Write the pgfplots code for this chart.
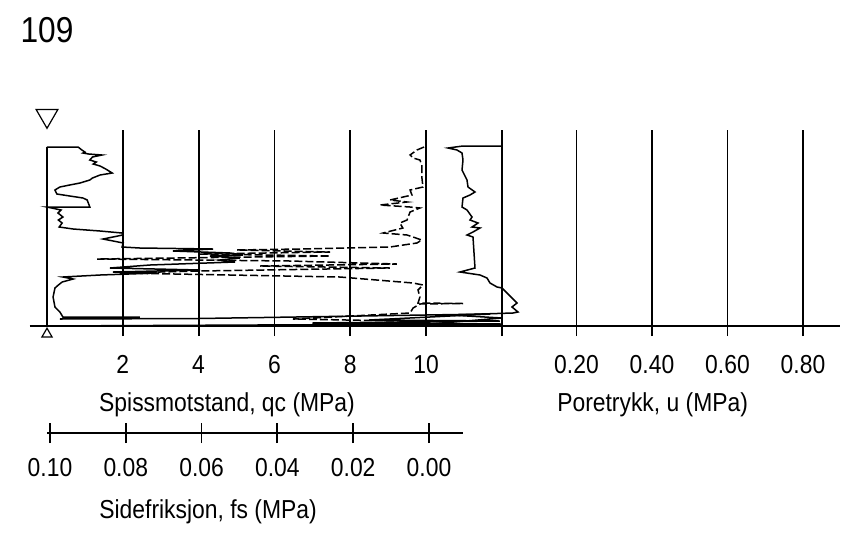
\documentclass[border=0pt]{standalone}
\usepackage{fontspec}
\setmainfont{Liberation Sans}[FakeStretch=0.88]
\usepackage{pgfplots}
\pgfplotsset{compat=1.18}

\pgfplotsset{
  cpt/.style={
    scale only axis, width=405pt, height=98pt,
    at={(0,0)}, anchor=south west,
    ymin=-1.7, ymax=17.9, y dir=reverse,
    clip=false,
  },
  ticks/.style={
    axis y line=none, axis x line*=bottom,
    xmajorgrids, grid style={black, line width=0.9pt},
    xtick align=outside, major tick length=5pt,
    tick style={black, line width=0.9pt},
    axis line style={line width=0.9pt},
    xticklabel style={font=\fontsize{13}{15}\selectfont, inner sep=0pt, yshift=-9.5pt},
  },
}

\begin{document}
\begin{tikzpicture}
\path[use as bounding box] (-15pt,-103pt) rectangle (406.5pt,163pt);

% spissmotstand qc
\begin{axis}[cpt, ticks,
    xmin=-0.4485, xmax=20.923,
    xtick={2,4,6,8,10,12}, xticklabels={2,4,6,8,10,{}},
  ]
  \addplot[black, line width=0.9pt] coordinates {(0,0) (0,17.9)};
  \addplot[black, line width=0.75pt] coordinates {
    (0,0) (0.16,0) (0.82,0) (0.92,0.3) (1.00,0.5) (0.95,0.6) (1.10,0.7)
    (1.45,0.8) (1.20,1.0) (1.13,1.3) (1.30,1.5) (1.22,1.7) (1.40,1.9)
    (1.55,2.2) (1.72,2.6) (1.40,2.8) (1.20,3.1) (1.13,3.3) (0.87,3.6)
    (0.60,3.8) (0.34,4.0) (0.21,4.3) (0.26,4.7) (0.60,4.9) (0.95,5.1)
    (1.06,5.3) (1.10,5.7) (1.13,6.0) (0,6.0) (0.37,6.3) (0.29,6.6)
    (0.42,7.0) (0.30,7.3) (0.40,7.6) (0.32,8.0) (0.69,8.2) (1.40,8.4)
    (1.98,8.6) (2.00,8.8) (1.48,9.2) (2.01,9.6) (1.98,10.0) (2.45,10.1)
    (4.38,10.2) (3.32,10.4) (4.83,10.6) (5.17,10.8) (4.30,10.9) (5.09,11.1)
    (4.56,11.3) (4.96,11.5) (2.72,11.8) (1.66,12.1) (4.04,12.3) (1.74,12.5)
    (2.90,12.6) (1.40,12.8) (0.42,13.0) (0.69,13.2) (0.40,13.5) (0.30,13.8)
    (0.21,14.1) (0.16,15.0) (0.21,16.0) (0.34,16.5) (0.42,17.0) (2.45,17.0)
    (0.34,17.2) (4.0,17.15) (11.7,16.7) (8.5,17.3) (11.95,17.4) (7.0,17.6)
    (12.0,17.7) (5.5,17.8) (0,17.9)
  };
  % water level and bottom symbols
  \addplot[only marks, mark=triangle, mark size=6.3pt,
    mark options={rotate=180, line width=0.6pt, fill=white}] coordinates {(0,-3.13)};
  \addplot[only marks, mark=triangle, mark size=2.9pt,
    mark options={line width=0.6pt, fill=white}] coordinates {(0,18.7)};

  \node[anchor=base, font=\fontsize{18}{20}\selectfont] at (axis cs:0,-10.5) {109};
  \node[anchor=base, font=\fontsize{13}{15}\selectfont] at (axis cs:4.75,26.4) {Spissmotstand, qc (MPa)};
  \node[anchor=base, font=\fontsize{13}{15}\selectfont] at (axis cs:15.98,26.4) {Poretrykk, u (MPa)};
  \node[anchor=base, font=\fontsize{13}{15}\selectfont] at (axis cs:4.25,37.1) {Sidefriksjon, fs (MPa)};
\end{axis}

% poretrykk u
\begin{axis}[cpt, ticks,
    xmin=-1.2477, xmax=0.898,
    xtick={0.2,0.4,0.6,0.8}, xticklabels={0.20,0.40,0.60,0.80},
  ]
  \addplot[black, line width=0.75pt] coordinates {
    (0,-0.1) (-0.1007,-0.1) (-0.1404,0.1) (-0.1166,0.3) (-0.1033,0.6)
    (-0.1007,1.3) (-0.1033,2.3) (-0.0901,3.3) (-0.0874,4.0) (-0.0689,4.5)
    (-0.0821,4.8) (-0.1007,5.1) (-0.1033,6.0) (-0.0901,6.3) (-0.0768,7.0)
    (-0.0821,7.3) (-0.0609,7.6) (-0.0768,8.0) (-0.0556,8.1) (-0.0742,8.5)
    (-0.0901,8.8) (-0.0742,9.0) (-0.0689,12.1) (-0.1086,12.5) (-0.0556,12.8)
    (-0.0371,13.1) (-0.0291,13.6) (-0.0106,14.0) (0.0026,14.1) (0.0159,14.6)
    (0.0291,15.1) (0.0424,15.6) (0.0291,16.0) (0.0450,16.5) (0.0318,16.6)
    (-0.1351,16.8) (0.0026,17.1) (-0.1881,17.7) (0.0026,17.9)
  };
\end{axis}

% sidefriksjon fs (reversed)
\begin{axis}[cpt, hide axis,
    x dir=reverse, xmin=-0.109235, xmax=0.104485,
  ]
  \addplot[black, line width=0.75pt, dash pattern=on 4pt off 1.5pt] coordinates {
    (0.0005,0) (0.0024,0.3) (0.0042,0.8) (0.0034,1.1) (0.0016,1.3)
    (0.0011,1.8) (0.0011,3.0) (0.0008,4.0) (0.0042,4.3) (0.0037,4.8)
    (0.0095,5.3) (0.0050,5.5) (0.0121,5.8) (0.0042,6.0) (0.0016,6.1)
    (0.0042,6.5) (0.0050,7.3) (0.0069,7.6) (0.0061,8.1) (0.0103,8.5)
    (0.0113,8.6) (0.0050,8.8) (0.0011,9.3) (0.0024,9.6) (0.0095,10.0)
    (0.0333,10.2) (0.0499,10.3) (0.0253,10.5) (0.0596,10.7) (0.0253,10.9)
    (0.0868,11.2) (0.0359,11.4) (0.0077,11.7) (0.0438,11.9) (0.0095,12.1)
    (0.0596,12.4) (0.0808,12.6) (0.0227,13.0) (0.0034,13.6) (0.0008,13.8)
    (0.0021,14.3) (0.0016,15.0) (0.0021,15.6) (-0.0098,15.65) (0.0016,15.7)
    (0.0034,16.1) (0.0042,16.6) (0.0351,17.2) (0.0069,17.4) (0,17.9)
  };
\end{axis}

% lower fs scale
\begin{axis}[scale only axis, width=208pt, height=1pt,
    at={(8.5pt,-53.5pt)}, anchor=south west,
    ymin=0, ymax=1, axis y line=none, axis x line*=bottom,
    x dir=reverse, xmin=-0.00897, xmax=0.10079,
    xtick={0,0.02,0.04,0.06,0.08,0.1},
    xticklabels={0.00,0.02,0.04,0.06,0.08,0.10},
    xtick align=center, major tick length=10pt,
    tick style={black, line width=0.9pt},
    axis line style={line width=0.9pt},
    xticklabel style={font=\fontsize{13}{15}\selectfont, inner sep=0pt, yshift=-7.5pt},
  ]
\end{axis}
\end{tikzpicture}
\end{document}
